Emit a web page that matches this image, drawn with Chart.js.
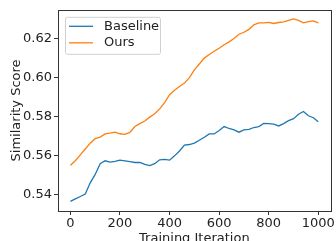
<!DOCTYPE html>
<html>
<head>
<meta charset="utf-8">
<script src="https://cdn.jsdelivr.net/npm/chart.js@4.4.0/dist/chart.umd.min.js"></script>
<style>
  html, body { margin: 0; padding: 0; background: #fff; }
  #wrap { width: 336px; height: 241px; }
</style>
</head>
<body>
<div id="wrap"><canvas id="chart" width="336" height="241"></canvas></div>
<script>
// Data (every 20 iterations)
const iterations = [];
for (let i = 0; i <= 1000; i += 20) iterations.push(i);

const baseline = [
  0.5367, 0.5380, 0.5392, 0.5405, 0.5462, 0.5505, 0.5560, 0.5575, 0.5568, 0.5572,
  0.5578, 0.5574, 0.5570, 0.5566, 0.5567, 0.5556, 0.5550, 0.5560, 0.5580, 0.5582,
  0.5578, 0.5600, 0.5625, 0.5655, 0.5658, 0.5665, 0.5680, 0.5695, 0.5712, 0.5712,
  0.5730, 0.5750, 0.5740, 0.5733, 0.5721, 0.5733, 0.5735, 0.5745, 0.5750, 0.5766,
  0.5765, 0.5762, 0.5753, 0.5765, 0.5780, 0.5790, 0.5813, 0.5827, 0.5805, 0.5795,
  0.5775
];

const ours = [
  0.5552, 0.5575, 0.5605, 0.5635, 0.5665, 0.5688, 0.5696, 0.5712, 0.5716, 0.5721,
  0.5713, 0.5710, 0.5720, 0.5750, 0.5765, 0.5778, 0.5798, 0.5815, 0.5840, 0.5872,
  0.5913, 0.5935, 0.5955, 0.5972, 0.6000, 0.6040, 0.6070, 0.6100, 0.6118, 0.6135,
  0.6150, 0.6168, 0.6183, 0.6200, 0.6222, 0.6232, 0.6247, 0.6270, 0.6280, 0.6280,
  0.6283, 0.6277, 0.6282, 0.6285, 0.6293, 0.6300, 0.6293, 0.6280, 0.6287, 0.6290,
  0.6280
];

const xTicks = [0, 200, 400, 600, 800, 1000];
const yTicks = [0.54, 0.56, 0.58, 0.60, 0.62];

const FONT = "'DejaVu Sans', sans-serif";

// matplotlib-style box around the plot area
const boxPlugin = {
  id: 'box',
  afterDatasetsDraw(chart) {
    const { ctx, chartArea: a } = chart;
    ctx.save();
    ctx.strokeStyle = '#333';
    ctx.lineWidth = 1;
    ctx.strokeRect(Math.round(a.left) + 0.5, Math.round(a.top) + 0.5,
                   Math.round(a.right - a.left), Math.round(a.bottom - a.top));
    ctx.restore();
  }
};

// legend box in the upper left of the plot
const legendPlugin = {
  id: 'mplLegend',
  afterDraw(chart) {
    const { ctx, chartArea: a } = chart;
    const x = a.left + 7, y = a.top + 7, w = 95, h = 37;
    ctx.save();
    ctx.fillStyle = 'rgba(255,255,255,0.8)';
    ctx.strokeStyle = '#d0d0d0';
    ctx.lineWidth = 1;
    ctx.beginPath();
    ctx.roundRect(x + 0.5, y + 0.5, w, h, 2);
    ctx.fill();
    ctx.stroke();
    ctx.font = '13px ' + FONT;
    ctx.textBaseline = 'middle';
    chart.data.datasets.forEach((ds, i) => {
      const ly = y + 9.5 + i * 16.5;
      ctx.strokeStyle = ds.borderColor;
      ctx.lineWidth = 1.3;
      ctx.beginPath();
      ctx.moveTo(x + 4, ly);
      ctx.lineTo(x + 28, ly);
      ctx.stroke();
      ctx.fillStyle = '#222';
      ctx.fillText(ds.label, x + 39, ly);
    });
    ctx.restore();
  }
};

new Chart(document.getElementById('chart'), {
  type: 'line',
  data: {
    datasets: [{
      label: 'Baseline',
      data: iterations.map((x, i) => ({ x: x, y: baseline[i] })),
      borderColor: '#1f77b4',
      borderWidth: 1.3,
      pointRadius: 0,
      tension: 0
    }, {
      label: 'Ours',
      data: iterations.map((x, i) => ({ x: x, y: ours[i] })),
      borderColor: '#ff7f0e',
      borderWidth: 1.3,
      pointRadius: 0,
      tension: 0
    }]
  },
  options: {
    responsive: false,
    animation: false,
    layout: { padding: { top: 5, right: 3, left: 0, bottom: 0 } },
    plugins: { legend: { display: false }, tooltip: { enabled: false } },
    scales: {
      x: {
        type: 'linear',
        min: -50, max: 1050,
        afterBuildTicks: s => { s.ticks = xTicks.map(v => ({ value: v })); },
        afterFit: s => { s.height = 30; },
        grid: { drawOnChartArea: false, drawTicks: true, tickLength: 4, color: '#333' },
        border: { display: false },
        ticks: { color: '#222', font: { family: FONT, size: 13 }, padding: 1, maxRotation: 0,
                 callback: v => String(v) },
        title: { display: true, text: 'Training Iteration', color: '#222',
                 font: { family: FONT, size: 13 }, padding: { top: 0, bottom: -5 } }
      },
      y: {
        min: 0.5318, max: 0.6347,
        afterBuildTicks: s => { s.ticks = yTicks.map(v => ({ value: v })); },
        afterFit: s => { s.width = 58; },
        grid: { drawOnChartArea: false, drawTicks: true, tickLength: 4, color: '#333' },
        border: { display: false },
        ticks: { color: '#222', font: { family: FONT, size: 13 }, padding: 2,
                 callback: v => v.toFixed(2) },
        title: { display: true, text: 'Similarity Score', color: '#222',
                 font: { family: FONT, size: 13 }, padding: { top: 9, bottom: 0 } }
      }
    }
  },
  plugins: [boxPlugin, legendPlugin]
});
</script>
</body>
</html>
